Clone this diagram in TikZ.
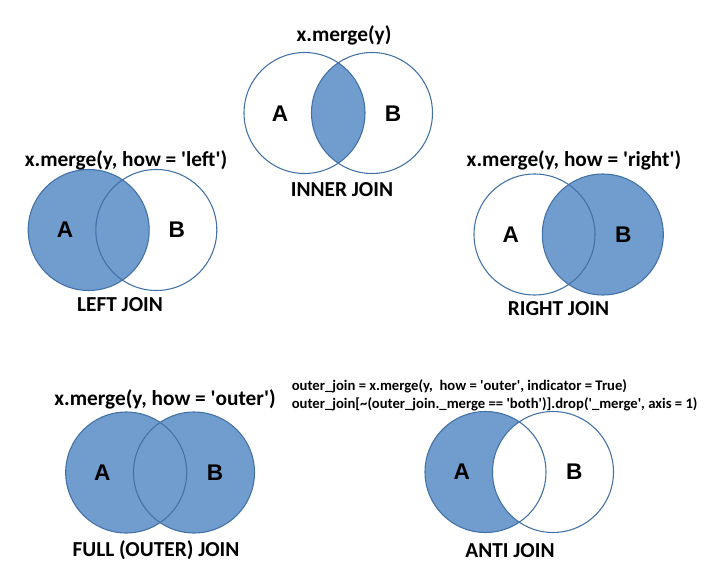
\documentclass[tikz,border=0pt]{standalone}
\usepackage{fontspec}
\setmainfont{Carlito}
\newfontfamily\arialf{Liberation Sans}
\definecolor{vfill}{RGB}{112,156,206}
\definecolor{vedge}{RGB}{66,113,168}
\newcommand{\sq}{\textquotesingle}
\begin{document}
\begin{tikzpicture}[x=0.75pt,y=-0.75pt,
  ttl/.style={anchor=base,inner sep=0pt,font=\fontsize{16}{18}\selectfont\bfseries},
  code/.style={anchor=base west,inner sep=0pt,font=\fontsize{11}{13}\selectfont\bfseries},
  lbl/.style={inner sep=0pt,font=\fontsize{17}{19}\selectfont\arialf\bfseries},
  ring/.style={draw=vedge,line width=0.8pt},
  filled/.style={fill=vfill}]
\useasboundingbox (0,0) rectangle (715,578);
\def\R{60.5}
% ---------- INNER JOIN ----------
\begin{scope}
  \clip (304.5,113) circle (\R);
  \fill[vfill] (372,113) circle (\R);
\end{scope}
\draw[ring] (304.5,113) circle (\R);
\draw[ring] (372,113) circle (\R);
\node[ttl] (t1) at (344,41) {x.merge(y)};
\node[ttl] (j1) at (342,196.5) {INNER JOIN};
\node[lbl] (a1) at (280,113.5) {A};
\node[lbl] (b1) at (393,113.5) {B};
% ---------- LEFT JOIN ----------
\fill[vfill] (88.7,230) circle (\R);
\draw[ring] (88.7,230) circle (\R);
\draw[ring] (156.3,230) circle (\R);
\node[ttl] (t2) at (126,166) {x.merge(y, how = \sq left\sq)};
\node[ttl] (j2) at (120,311) {LEFT JOIN};
\node[lbl] (a2) at (65,230) {A};
\node[lbl] (b2) at (176.7,230) {B};
% ---------- RIGHT JOIN ----------
\fill[vfill] (602.8,234.5) circle (\R);
\draw[ring] (534.5,234.5) circle (\R);
\draw[ring] (602.8,234.5) circle (\R);
\node[ttl] (t3) at (574,166) {x.merge(y, how = \sq right\sq)};
\node[ttl] (j3) at (558.5,315.5) {RIGHT JOIN};
\node[lbl] (a3) at (510.7,234.3) {A};
\node[lbl] (b3) at (623.3,234.3) {B};
% ---------- FULL OUTER JOIN ----------
\fill[vfill] (126.2,472.5) circle (\R);
\fill[vfill] (194,472.5) circle (\R);
\draw[ring] (126.2,472.5) circle (\R);
\draw[ring] (194,472.5) circle (\R);
\node[ttl] (t4) at (165,405) {x.merge(y, how = \sq outer\sq)};
\node[ttl] (j4) at (156,556.5) {FULL (OUTER) JOIN};
\node[lbl] (a4) at (102.3,472.7) {A};
\node[lbl] (b4) at (215,472.7) {B};
% ---------- ANTI JOIN ----------
\fill[vfill] (485.5,472) circle (\R);
\begin{scope}
  \clip (485.5,472) circle (\R);
  \fill[white] (553,472) circle (\R);
\end{scope}
\draw[ring] (485.5,472) circle (\R);
\draw[ring] (553,472) circle (\R);
\node[code] (c1) at (291.5,390.5) {outer\_join = x.merge(y,\ \ how = \sq outer\sq, indicator = True)};
\node[code] (c2) at (291.5,408.3) {outer\_join[\char`\~(outer\_join.\_merge == \sq both\sq)].drop(\sq\_merge\sq, axis = 1)};
\node[ttl] (j5) at (510,557.5) {ANTI JOIN};
\node[lbl] (a5) at (461.7,471.7) {A};
\node[lbl] (b5) at (574.3,471.7) {B};
\end{tikzpicture}
\end{document}
